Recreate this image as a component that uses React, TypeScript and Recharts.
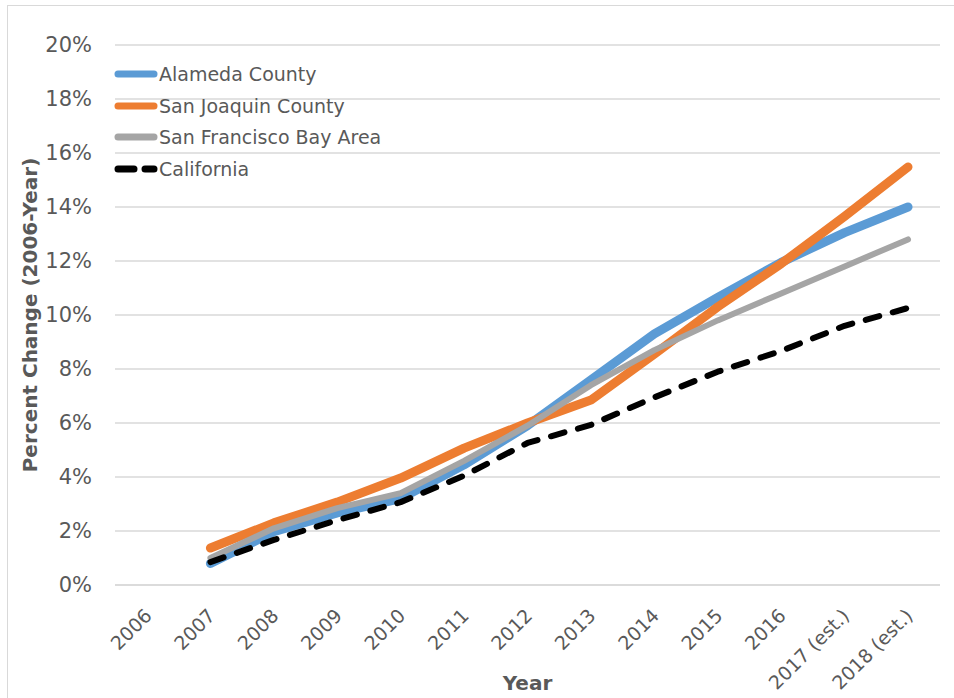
import React from "react";
import { LineChart, Line, XAxis, YAxis, CartesianGrid } from "recharts";

const YEARS = [
  "2006", "2007", "2008", "2009", "2010", "2011", "2012",
  "2013", "2014", "2015", "2016", "2017 (est.)", "2018 (est.)",
];

// percent change since 2006
const ALAMEDA = [null, 0.8, 1.97, 2.67, 3.2, 4.45, 5.9, 7.6, 9.3, 10.65, 11.95, 13.05, 14.0];
const SAN_JOAQUIN = [null, 1.37, 2.3, 3.07, 3.96, 5.07, 6.0, 6.85, 8.55, 10.3, 11.9, 13.65, 15.48];
const BAY_AREA = [null, 1.0, 2.1, 2.85, 3.4, 4.6, 5.9, 7.4, 8.7, 9.8, 10.8, 11.8, 12.8];
const CALIFORNIA = [null, 0.85, 1.67, 2.4, 3.07, 4.05, 5.26, 5.93, 6.95, 7.9, 8.67, 9.6, 10.26];

const Y_TICKS = [0, 2, 4, 6, 8, 10, 12, 14, 16, 18, 20];

const FONT = "'DejaVu Sans', sans-serif";
const TEXT = "#595959";

const SERIES = [
  { key: "alameda", name: "Alameda County", color: "#5B9BD5", width: 9, dash: undefined },
  { key: "sanJoaquin", name: "San Joaquin County", color: "#ED7D31", width: 9, dash: undefined },
  { key: "bayArea", name: "San Francisco Bay Area", color: "#A5A5A5", width: 6, dash: undefined },
  { key: "california", name: "California", color: "#000000", width: 6, dash: "14 14" },
];

const data = YEARS.map((year, i) => ({
  year,
  alameda: ALAMEDA[i],
  sanJoaquin: SAN_JOAQUIN[i],
  bayArea: BAY_AREA[i],
  california: CALIFORNIA[i],
}));

const XTick = ({ x, y, payload }: any) => (
  <g transform={`translate(${x + 6},${y + 24})`}>
    <text
      transform="rotate(-45)"
      textAnchor="end"
      fill={TEXT}
      fontSize={19}
      fontFamily={FONT}
    >
      {payload.value}
    </text>
  </g>
);

// legend drawn as an overlay inside the plot, top-left
const LegendBox = () => (
  <div
    style={{
      position: "absolute",
      left: 114,
      top: 58,
      fontFamily: FONT,
      fontSize: 19,
      color: TEXT,
    }}
  >
    {SERIES.map((s) => (
      <div key={s.key} style={{ display: "flex", alignItems: "center", height: 31.7 }}>
        <svg width={44} height={12} style={{ marginRight: 1 }}>
          <line
            x1={4}
            y1={6}
            x2={40}
            y2={6}
            stroke={s.color}
            strokeWidth={7}
            strokeLinecap="round"
            strokeDasharray={s.dash ? "16 11" : undefined}
          />
        </svg>
        <span>{s.name}</span>
      </div>
    ))}
  </div>
);

const YLabel = ({ viewBox }: any) => {
  const cx = viewBox.x - 15;
  const cy = viewBox.y + viewBox.height / 2;
  return (
    <text
      x={cx}
      y={cy}
      transform={`rotate(-90 ${cx} ${cy})`}
      textAnchor="middle"
      dominantBaseline="central"
      fill={TEXT}
      fontSize={20}
      fontWeight="bold"
      fontFamily={FONT}
    >
      Percent Change (2006-Year)
    </text>
  );
};

export default function App() {
  return (
    <div style={{ position: "absolute", left: 0, top: 0, width: 954, height: 698, background: "#fff" }}>
      <div
        style={{
          position: "absolute",
          left: 7,
          top: 5,
          width: 950,
          height: 700,
          border: "1.5px solid #d9d9d9",
        }}
      />
      <LineChart
        width={954}
        height={698}
        data={data}
        margin={{ top: 45, right: 14, bottom: 33, left: 45 }}
      >
        <CartesianGrid vertical={false} stroke="#d9d9d9" strokeWidth={1.5} />
        <XAxis
          dataKey="year"
          height={80}
          padding={{ left: 32, right: 32 }}
          axisLine={{ stroke: "#d9d9d9", strokeWidth: 1.5 }}
          tickLine={false}
          interval={0}
          tick={<XTick />}
          label={{
            value: "Year",
            position: "bottom",
            offset: 11,
            fill: TEXT,
            fontSize: 20,
            fontWeight: "bold",
            fontFamily: FONT,
          }}
        />
        <YAxis
          width={70}
          domain={[0, 20]}
          ticks={Y_TICKS}
          interval={0}
          axisLine={false}
          tickLine={false}
          tickMargin={17}
          tickFormatter={(v) => `${v}%`}
          tick={{ fill: TEXT, fontSize: 21, fontFamily: FONT }}
          label={{ content: <YLabel /> }}
        />
        {SERIES.map((s) => (
          <Line
            key={s.key}
            dataKey={s.key}
            name={s.name}
            stroke={s.color}
            strokeWidth={s.width}
            strokeDasharray={s.dash}
            strokeLinecap="round"
            strokeLinejoin="round"
            dot={false}
            activeDot={false}
            isAnimationActive={false}
          />
        ))}
      </LineChart>
      <LegendBox />
    </div>
  );
}
